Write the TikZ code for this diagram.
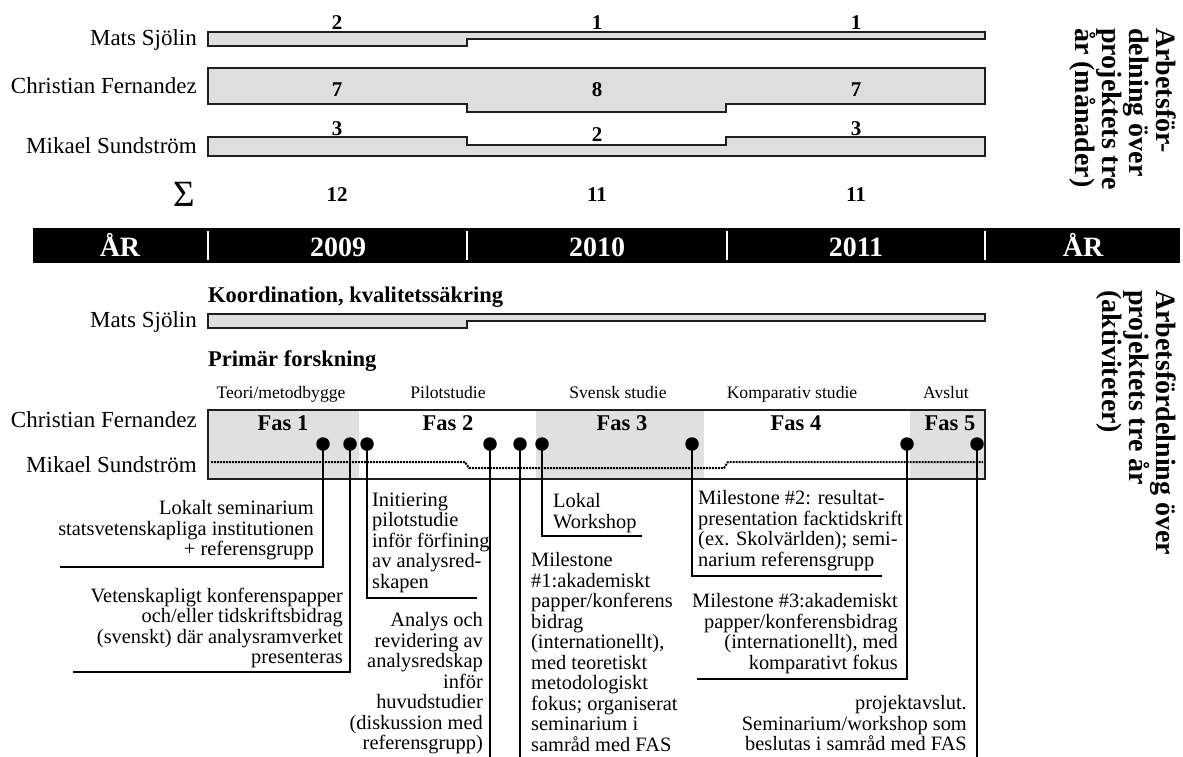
\documentclass[tikz,border=0pt]{standalone}
\usepackage{fontspec}
\setmainfont{Liberation Serif}
\definecolor{barfill}{gray}{0.87}
\definecolor{phasefill}{gray}{0.88}
\definecolor{edge}{gray}{0.12}
\begin{document}
\begin{tikzpicture}[x=1pt,y=-1pt,
  bar/.style={draw=edge, line width=2.2pt, fill=barfill, line join=miter},
  nm/.style={anchor=base east, inner sep=0, font=\fontsize{23}{24}\selectfont},
  num/.style={anchor=base, inner sep=0, font=\bfseries\fontsize{21}{21}\selectfont},
  yr/.style={anchor=base, inner sep=0, text=white, font=\bfseries\fontsize{28}{28}\selectfont},
  hd/.style={anchor=base west, inner sep=0, font=\bfseries\fontsize{22.5}{23}\selectfont},
  ph/.style={anchor=base, inner sep=0, font=\fontsize{17.6}{18}\selectfont},
  fas/.style={anchor=base, inner sep=0, font=\bfseries\fontsize{22.5}{23}\selectfont},
  dotn/.style={circle, fill=black, inner sep=0, minimum size=13.5pt},
  cl/.style={draw=black, line width=2.6pt},
  ctl/.style={anchor=north west, align=left, inner sep=0, font=\fontsize{20.4}{20.5}\selectfont, execute at begin node=\strut},
  ctr/.style={anchor=north east, align=right, inner sep=0, font=\fontsize{20.4}{20.5}\selectfont, execute at begin node=\strut},
  rot/.style={rotate=-90, anchor=north west, align=left, inner sep=0, font=\bfseries\fontsize{28}{27}\selectfont, execute at begin node=\strut}]
\useasboundingbox (0,0) rectangle (1183,756);
\fill[white] (0,0) rectangle (1183,756);

% ---------- top: months ----------
\draw[bar] (208,32) -- (985,32) -- (985,39) -- (467,39) -- (467,46) -- (208,46) -- cycle;
\draw[bar] (208,68) -- (985,68) -- (985,104) -- (726,104) -- (726,112) -- (467,112) -- (467,104) -- (208,104) -- cycle;
\draw[bar] (208,137) -- (467,137) -- (467,145) -- (726,145) -- (726,137) -- (985,137) -- (985,156) -- (208,156) -- cycle;

\node[nm] (n1) at (197,45) {Mats Sjölin};
\node[nm] (n2) at (197,93) {Christian Fernandez};
\node[nm] (n3) at (197,153) {Mikael Sundström};
\node[inner sep=0, font=\fontsize{37}{37}\selectfont] (sig) at (184,194) {Σ};

\node[num] (m11) at (337,29) {2};
\node[num] (m12) at (597,29) {1};
\node[num] (m13) at (856,29) {1};
\node[num] (m21) at (337,96) {7};
\node[num] (m22) at (597,96) {8};
\node[num] (m23) at (856,96) {7};
\node[num] (m31) at (337,135) {3};
\node[num] (m32) at (597,141) {2};
\node[num] (m33) at (856,135) {3};
\node[num] (s1) at (337,201) {12};
\node[num] (s2) at (597,201) {11};
\node[num] (s3) at (856,201) {11};

\node[rot] (r1) at (1176,28) {Arbetsför-\\delning över\\projektets tre\\år (månader)};

% ---------- year bar ----------
\fill[black] (33,228) rectangle (1180,263);
\foreach \xx in {208,467,727,985} \draw[white, line width=1.5pt] (\xx,231) -- (\xx,260);
\node[yr] (y0) at (120,256) {ÅR};
\node[yr] (y1) at (338,256) {2009};
\node[yr] (y2) at (597,256) {2010};
\node[yr] (y3) at (856,256) {2011};
\node[yr] (y4) at (1083,256) {ÅR};

% ---------- bottom: activities ----------
\node[hd] (h1) at (208,302) {Koordination, kvalitetssäkring};
\node[nm] (n4) at (197,327) {Mats Sjölin};
\draw[bar] (208,314) -- (985,314) -- (985,321) -- (467,321) -- (467,328) -- (208,328) -- cycle;

\node[hd] (h2) at (208,366) {Primär forskning};
\node[ph] (p1) at (281,398) {Teori/metodbygge};
\node[ph] (p2) at (448,398) {Pilotstudie};
\node[ph] (p3) at (618,398) {Svensk studie};
\node[ph] (p4) at (792,398) {Komparativ studie};
\node[ph] (p5) at (946,398) {Avslut};

\fill[phasefill] (208,410) rectangle (359,479);
\fill[phasefill] (536,410) rectangle (704,479);
\fill[phasefill] (910,410) rectangle (985,479);
\draw[densely dotted, line width=2pt] (211,462) -- (465,462) -- (469,468) -- (724,468) -- (728,462) -- (983,462);
\draw[draw=edge, line width=2.6pt] (208,410) rectangle (985,479);

\node[nm] (n5) at (197,427) {Christian Fernandez};
\node[nm] (n6) at (197,472) {Mikael Sundström};
\node[fas] (f1) at (283,430) {Fas 1};
\node[fas] (f2) at (448,430) {Fas 2};
\node[fas] (f3) at (622,430) {Fas 3};
\node[fas] (f4) at (796,430) {Fas 4};
\node[fas] (f5) at (950,430) {Fas 5};

% callout ends
\coordinate (e1) at (60,567);
\coordinate (e2) at (73,672);
\coordinate (e3) at (477,598);
\coordinate (e4) at (490,757);
\coordinate (e5) at (520,757);
\coordinate (e6) at (642,536);
\coordinate (e7) at (882,576);
\coordinate (e8) at (697,679);
\coordinate (e9) at (977,757);

\node[dotn] (d1) at (323,444) {};
\node[dotn] (d2) at (350,444) {};
\node[dotn] (d3) at (367,444) {};
\node[dotn] (d4) at (490,444) {};
\node[dotn] (d5) at (520,444) {};
\node[dotn] (d6) at (542,444) {};
\node[dotn] (d7) at (692,444) {};
\node[dotn] (d8) at (907,444) {};
\node[dotn] (d9) at (977,444) {};

\draw[cl] (d1.center) |- (e1);
\draw[cl] (d2.center) |- (e2);
\draw[cl] (d3.center) |- (e3);
\draw[cl] (d4.center) -- (e4);
\draw[cl] (d5.center) -- (e5);
\draw[cl] (d6.center) |- (e6);
\draw[cl] (d7.center) |- (e7);
\draw[cl] (d8.center) |- (e8);
\draw[cl] (d9.center) -- (e9);

\node[ctr] (t1) at (314,500.6) {Lokalt seminarium\\statsvetenskapliga institutionen\\+ referensgrupp};
\node[ctr] (t2) at (343,587.6) {Vetenskapligt konferenspapper\\och/eller tidskriftsbidrag\\(svenskt) där analysramverket\\presenteras};
\node[ctl] (t3) at (372,492.6) {Initiering\\pilotstudie\\inför förfining\\av analysred-\\skapen};
\node[ctr] (t4) at (483,612.6) {Analys och\\revidering av\\analysredskap\\inför\\huvudstudier\\(diskussion med\\referensgrupp)};
\node[ctl] (t5) at (531,552.6) {Milestone\\\#1:akademiskt\\papper/konferens\\bidrag\\(internationellt),\\med teoretiskt\\metodologiskt\\fokus; organiserat\\seminarium i\\samråd med FAS};
\node[ctl] (t6) at (553,493.6) {Lokal\\Workshop};
\node[ctl] (t7) at (698,490.6) {Milestone \#2: resultat-\\presentation facktidskrift\\(ex. Skolvärlden); semi-\\narium referensgrupp};
\node[ctr] (t8) at (898,593.6) {Milestone \#3:akademiskt\\papper/konferensbidrag\\(internationellt), med\\komparativt fokus};
\node[ctr] (t9) at (967,695.6) {projektavslut.\\Seminarium/workshop som\\beslutas i samråd med FAS};

\node[rot] (r2) at (1176,290) {Arbetsfördelning över\\projektets tre år\\(aktiviteter)};
\end{tikzpicture}
\end{document}
